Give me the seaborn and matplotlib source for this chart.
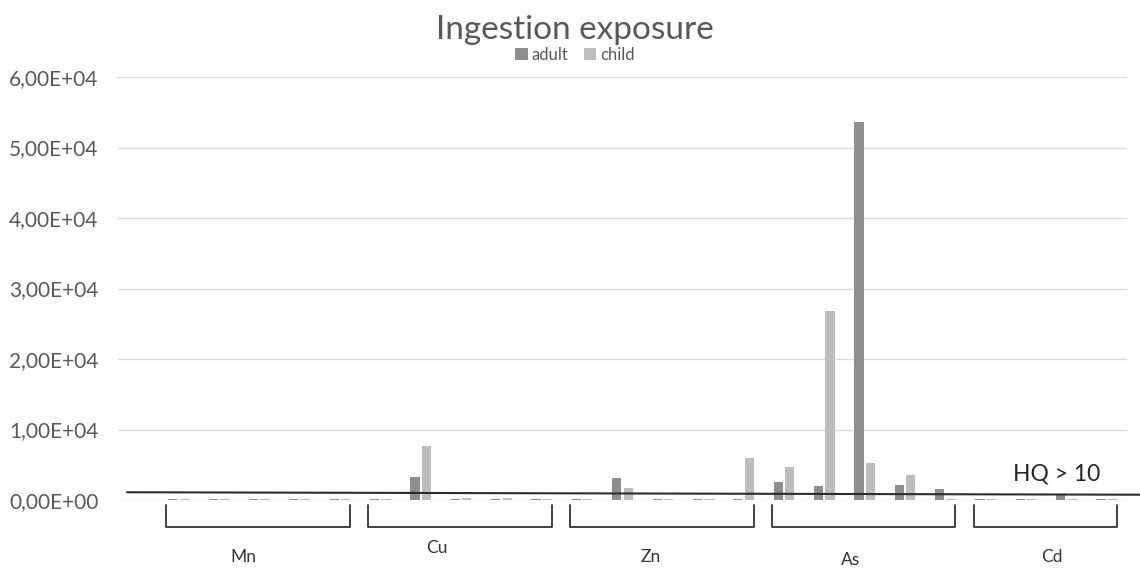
import matplotlib
matplotlib.use("Agg")
import matplotlib.pyplot as plt
import matplotlib.transforms as mtransforms
from matplotlib.ticker import FuncFormatter
import seaborn as sns
import pandas as pd

# ---------------- data ----------------
sites = [str(i) for i in range(1, 26)]
adult = [0,
         100, 100, 100, 100, 100,       # Mn
         100, 3200, 110, 110, 100,      # Cu
         100, 3100, 110, 110, 120,      # Zn
         2500, 2000, 53600, 2100, 1500,  # As
         100, 100, 900, 100]            # Cd
child = [0,
         90, 90, 90, 90, 90,            # Mn
         90, 7600, 350, 350, 90,        # Cu
         90, 1700, 90, 90, 6000,        # Zn
         4700, 26800, 5200, 3500, 90,   # As
         90, 90, 90, 90]                # Cd
metals = ["Mn", "Cu", "Zn", "As", "Cd"]
metal_first = [1, 6, 11, 16, 21]
metal_last = [5, 10, 15, 20, 24]
series = ["adult", "child"]
hq_line = [1100, 750]          # hand-drawn HQ > 10 line (left, right)
hq_label = "HQ > 10"
title = "Ingestion exposure"
yticks = [0, 10000, 20000, 30000, 40000, 50000, 60000]

df = pd.DataFrame({
    "site": sites * 2,
    "value": adult + child,
    "group": [series[0]] * len(sites) + [series[1]] * len(sites),
})

# ---------------- style ----------------
sns.set_style("white")
plt.rcParams["font.family"] = ["Lato", "DejaVu Sans"]
txt_color = "#595959"
colors = {"adult": "#8e8e8e", "child": "#bdbdbd"}

fig = plt.figure(figsize=(11.4, 5.71), dpi=100)
ax = fig.add_axes([118 / 1140, 1 - 500 / 571, (1127 - 118) / 1140, (500 - 77) / 571])

sns.barplot(data=df, x="site", y="value", hue="group", palette=colors,
            width=0.57, gap=0.2, dodge=True, ax=ax, legend=True,
            saturation=1, linewidth=0, edgecolor="none")

ax.set_xlim(-0.5, len(sites) - 0.5)
ax.set_ylim(yticks[0], yticks[-1])
ax.set_yticks(yticks)
ax.yaxis.set_major_formatter(FuncFormatter(lambda v, p: f"{v:.2E}".replace(".", ",")))
ax.set_xticks([])
ax.set_xlabel("")
ax.set_ylabel("")
ax.grid(axis="y", color="#d9d9d9", linewidth=1)
ax.set_axisbelow(True)
for s in ax.spines.values():
    s.set_visible(False)
ax.tick_params(axis="y", length=0, pad=14, labelsize=15, labelcolor=txt_color)

# legend
ax.legend_.remove()
handles, labels = ax.get_legend_handles_labels()
fig.legend(handles, labels, loc="center", bbox_to_anchor=(575 / 1140, 1 - 55 / 571),
           ncol=2, frameon=False, fontsize=12, handlelength=0.75, handleheight=0.75,
           handletextpad=0.25, columnspacing=0.9, labelcolor=txt_color)

# title
fig.text(575 / 1140, 1 - 30 / 571, title, ha="center", va="center",
         fontsize=24, color=txt_color)

# HQ line and label
ax.plot([0.009, 1.013], [hq_line[0] / yticks[-1], hq_line[1] / yticks[-1]],
        transform=ax.transAxes, color="#2b2b2b", lw=1.5, clip_on=False, zorder=5)
ax.text(0.93, 2200 / yticks[-1], hq_label, transform=ax.transAxes, ha="center",
        va="bottom", fontsize=16.5, color="#262626")

# group brackets and labels
trans = mtransforms.blended_transform_factory(ax.transData, ax.transAxes)
label_offsets = [-0.4, -0.6, -0.3, -0.35, 0.13]
label_y = [-0.135, -0.113, -0.135, -0.142, -0.135]
for m, a, b, off, ly in zip(metals, metal_first, metal_last, label_offsets, label_y):
    x0, x1 = a - 0.3, b + 0.25
    ax.plot([x0, x0, x1, x1], [-0.012, -0.064, -0.064, -0.012], transform=trans,
            color="#333333", lw=1.3, clip_on=False)
    ax.text((a + b) / 2 + off, ly, m, transform=trans, ha="center", va="center",
            fontsize=12.5, color="#333333")

fig.savefig("out.png", dpi=100)
